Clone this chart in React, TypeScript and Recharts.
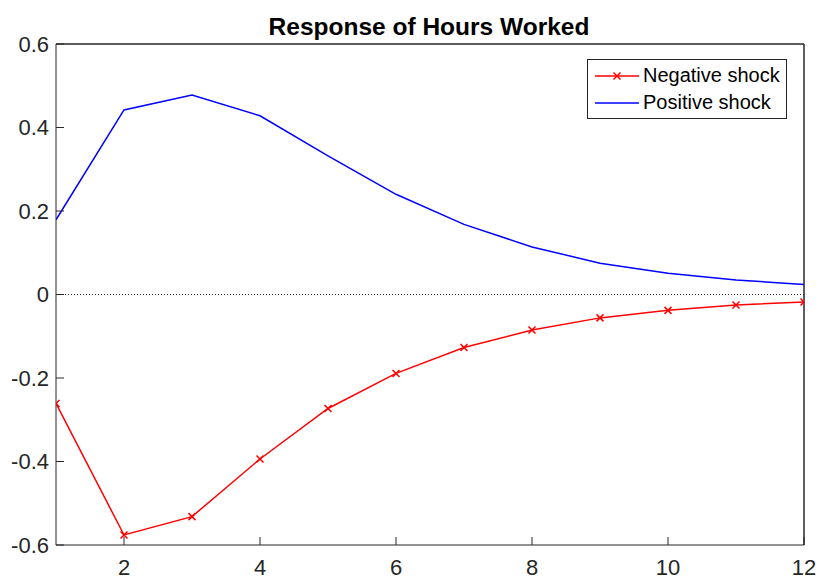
import { LineChart, Line, XAxis, YAxis, ReferenceLine, Legend } from 'recharts';

const periods = [1, 2, 3, 4, 5, 6, 7, 8, 9, 10, 11, 12];
const negativeShock = [-0.261, -0.576, -0.532, -0.394, -0.273, -0.189, -0.127, -0.085, -0.056, -0.038, -0.025, -0.018];
const positiveShock = [0.179, 0.442, 0.478, 0.428, 0.332, 0.240, 0.168, 0.114, 0.075, 0.051, 0.035, 0.024];
const xTicks = [2, 4, 6, 8, 10, 12];
const yTicks = [-0.6, -0.4, -0.2, 0, 0.2, 0.4, 0.6];

const FONT = '"Liberation Sans", Arial, Helvetica, sans-serif';
const AXIS = '#262626';

const data = periods.map((p, i) => ({
  period: p,
  negative: negativeShock[i],
  positive: positiveShock[i],
}));

// MATLAB-style "x" marker
function XMark(props: any) {
  const { cx, cy, index } = props;
  if (cx == null || cy == null) return <g key={index} />;
  const s = 3.5;
  return (
    <path
      key={index}
      d={`M${cx - s},${cy - s}L${cx + s},${cy + s}M${cx - s},${cy + s}L${cx + s},${cy - s}`}
      stroke="#ff0000"
      strokeWidth={1.5}
      fill="none"
    />
  );
}

function LegendBox(props: any) {
  const items = props.payload || [];
  return (
    <div
      style={{
        width: 198,
        height: 56,
        border: `1px solid ${AXIS}`,
        background: '#fff',
        paddingTop: 2,
        fontFamily: FONT,
        fontSize: 20,
        color: '#000',
      }}
    >
      {items.map((it: any) => (
        <div key={it.value} style={{ display: 'flex', alignItems: 'center', height: 27 }}>
          <svg width={44} height={14} style={{ marginLeft: 7 }}>
            <line x1={0} y1={7} x2={44} y2={7} stroke={it.color} strokeWidth={1.5} />
            {it.value === 'Negative shock' && (
              <path d="M18.5,3.5L25.5,10.5M18.5,10.5L25.5,3.5" stroke={it.color} strokeWidth={1.5} />
            )}
          </svg>
          <span style={{ marginLeft: 4, lineHeight: '27px' }}>{it.value}</span>
        </div>
      ))}
    </div>
  );
}

const fmt = (v: number) => (Math.abs(v) < 1e-9 ? '0' : v.toFixed(1));

export default function App() {
  return (
    <div style={{ position: 'absolute', left: 0, top: 0, width: 818, height: 580, background: '#fff' }}>
      <div
        style={{
          position: 'absolute',
          left: 0,
          width: 858,
          top: 15,
          textAlign: 'center',
          fontFamily: FONT,
          fontWeight: 'bold',
          fontSize: 24.5,
          lineHeight: '24px',
          color: '#000',
        }}
      >
        Response of Hours Worked
      </div>
      <LineChart
        width={818}
        height={580}
        data={data}
        margin={{ top: 43, right: 13, left: 0, bottom: 0 }}
        style={{ overflow: 'visible' }}
      >
        <XAxis
          xAxisId="bottom"
          dataKey="period"
          type="number"
          domain={[1, 12]}
          ticks={xTicks}
          allowDataOverflow
          height={35}
          stroke={AXIS}
          tickSize={-8}
          tickMargin={22}
          tick={{ fill: AXIS, fontSize: 22, fontFamily: FONT }}
        />
        <XAxis
          xAxisId="top"
          orientation="top"
          dataKey="period"
          type="number"
          domain={[1, 12]}
          ticks={xTicks}
          allowDataOverflow
          height={1}
          stroke={AXIS}
          tickSize={-8}
          tick={false}
        />
        <YAxis
          yAxisId="left"
          type="number"
          domain={[-0.6, 0.6]}
          ticks={yTicks}
          allowDataOverflow
          width={56}
          stroke={AXIS}
          tickSize={-8}
          tickMargin={15}
          tickFormatter={fmt}
          tick={{ fill: AXIS, fontSize: 22, fontFamily: FONT }}
        />
        <YAxis
          yAxisId="right"
          orientation="right"
          type="number"
          domain={[-0.6, 0.6]}
          ticks={yTicks}
          allowDataOverflow
          width={1}
          stroke={AXIS}
          tickSize={-8}
          tick={false}
        />
        <ReferenceLine xAxisId="bottom" yAxisId="left" y={0} stroke="#333" strokeWidth={1} strokeDasharray="1 2" />
        <ReferenceLine xAxisId="bottom" yAxisId="left" y={0.6} stroke={AXIS} strokeWidth={1} />
        <ReferenceLine xAxisId="bottom" yAxisId="left" x={12} stroke={AXIS} strokeWidth={1} />
        <Legend
          layout="horizontal"
          verticalAlign="middle"
          align="center"
          wrapperStyle={{ left: 587, top: 59, width: 200, height: 58 }}
          content={<LegendBox />}
        />
        <Line
          xAxisId="bottom"
          yAxisId="left"
          name="Negative shock"
          dataKey="negative"
          type="linear"
          stroke="#ff0000"
          strokeWidth={1.5}
          dot={(p: any) => <XMark key={p.index} {...p} />}
          activeDot={false}
          isAnimationActive={false}
        />
        <Line
          xAxisId="bottom"
          yAxisId="left"
          name="Positive shock"
          dataKey="positive"
          type="linear"
          stroke="#0000ff"
          strokeWidth={1.5}
          dot={false}
          activeDot={false}
          isAnimationActive={false}
        />
      </LineChart>
    </div>
  );
}
